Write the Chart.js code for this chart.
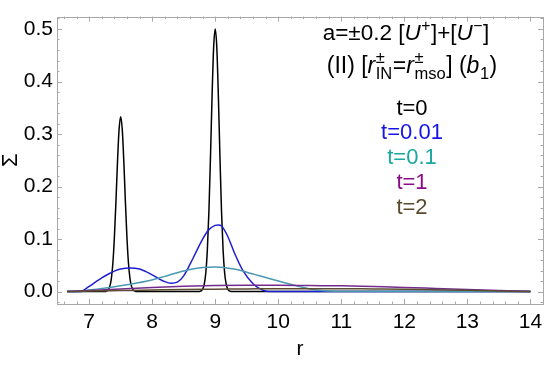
<!DOCTYPE html>
<html><head><meta charset="utf-8">
<script src="https://cdn.jsdelivr.net/npm/chart.js@4/dist/chart.umd.min.js"></script>
<style>html,body{margin:0;padding:0;background:#fff}#wrap{width:550px;height:366px;position:relative}</style>
</head><body><div id="wrap"><canvas id="c" width="550" height="366"></canvas></div>
<script>
// ---- data ----
const seriesLabels = ['t=0', 't=0.01', 't=0.1', 't=1', 't=2'];
const lineColors   = ['#000000', '#1f1fd2', '#4a98b2', '#742c8c', '#5e4c30'];
const textColors   = ['#000000', '#1414e6', '#1aa8a0', '#8a0a8a', '#5a4a2c'];
const xTicks = [7, 8, 9, 10, 11, 12, 13, 14];
const yTicks = [0, 0.1, 0.2, 0.3, 0.4, 0.5];

// t = 0
const r0 = [6.65, 7.25, 7.275, 7.3, 7.325, 7.35, 7.375, 7.4, 7.425, 7.45, 7.475, 7.5, 7.525, 7.55, 7.575, 7.6, 7.625, 7.65, 7.675, 7.7, 7.725, 7.75,
            8.75, 8.775, 8.8, 8.825, 8.85, 8.875, 8.9, 8.925, 8.95, 8.975, 9.0, 9.025, 9.05, 9.075, 9.1, 9.125, 9.15, 9.175, 9.2, 9.225, 9.25, 14.0];
const s0 = [0, 0, 0.001, 0.003, 0.009, 0.023, 0.052, 0.102, 0.171, 0.248, 0.309, 0.333, 0.309, 0.248, 0.171, 0.102, 0.052, 0.023, 0.009, 0.003, 0.001, 0,
            0, 0.0012, 0.0045, 0.0135, 0.035, 0.079, 0.153, 0.257, 0.372, 0.465, 0.5, 0.465, 0.372, 0.257, 0.153, 0.079, 0.035, 0.0135, 0.0045, 0.0012, 0, 0];
// t = 0.01
const r1 = [6.65, 6.85, 7.0, 7.1, 7.2, 7.3, 7.4, 7.5, 7.65, 7.8, 7.9, 8.0, 8.1, 8.2, 8.3, 8.4, 8.5, 8.65, 8.8, 8.9, 9.0, 9.05, 9.1, 9.2, 9.3, 9.44, 9.6, 9.7, 9.85, 14.0];
const s1 = [0, 0, 0.01, 0.018, 0.026, 0.033, 0.039, 0.043, 0.045, 0.043, 0.038, 0.032, 0.025, 0.019, 0.016, 0.018, 0.03, 0.064, 0.1, 0.118, 0.126, 0.127, 0.125, 0.105, 0.075, 0.04, 0.015, 0.006, 0, 0];
// t = 0.1
const r2 = [6.65, 6.85, 7.0, 7.33, 7.6, 7.96, 8.2, 8.4, 8.6, 8.8, 9.0, 9.3, 9.5, 9.8, 10.1, 10.35, 10.6, 11.0, 14.0];
const s2 = [0, 0, 0.003, 0.008, 0.013, 0.021, 0.029, 0.036, 0.042, 0.046, 0.047, 0.043, 0.037, 0.027, 0.017, 0.009, 0.003, 0.0005, 0];
// t = 1
const r3 = [6.65, 7.0, 7.5, 8.0, 8.5, 9.0, 9.5, 10.0, 10.5, 11.0, 11.5, 12.0, 12.5, 13.0, 13.5, 14.0];
const s3 = [0, 0.002, 0.005, 0.008, 0.010, 0.0115, 0.012, 0.012, 0.0115, 0.011, 0.0095, 0.008, 0.006, 0.004, 0.002, 0];
// t = 2
const r4 = [6.65, 7.0, 7.5, 8.0, 8.5, 9.0, 9.5, 10.0, 10.5, 11.0, 11.5, 12.0, 12.5, 13.0, 13.5, 14.0];
const s4 = [0, 0.001, 0.002, 0.003, 0.004, 0.0045, 0.005, 0.0055, 0.0055, 0.0055, 0.005, 0.0045, 0.0035, 0.0025, 0.0013, 0];

const rs = [r0, r1, r2, r3, r4];
const ss = [s0, s1, s2, s3, s4];

const FAM = '"Liberation Sans", Arial, Helvetica, sans-serif';

const datasets = seriesLabels.map((lab, i) => ({
  label: lab,
  data: rs[i].map((r, k) => ({x: r, y: ss[i][k]})),
  borderColor: lineColors[i],
  borderWidth: 1.5,
  pointRadius: 0,
  fill: false,
  cubicInterpolationMode: 'monotone',
  order: seriesLabels.length - i
}));

function drawRich(ctx, segs, cx, baseY, size, scr) {
  const small = size * (scr || 0.66);
  const fnt = (sz, it) => (it ? 'italic ' : '') + sz + 'px ' + FAM;
  const widths = segs.map(s => {
    if (s.t !== undefined) { ctx.font = fnt(size, s.it); return ctx.measureText(s.t).width; }
    ctx.font = fnt(small, false);
    return Math.max(s.sup ? ctx.measureText(s.sup).width : 0, s.sub ? ctx.measureText(s.sub).width : 0) + 1;
  });
  const total = widths.reduce((a, b) => a + b, 0);
  let x = cx - total / 2;
  ctx.textAlign = 'left';
  ctx.textBaseline = 'alphabetic';
  segs.forEach((s, i) => {
    ctx.fillStyle = s.c || '#000';
    if (s.t !== undefined) { ctx.font = fnt(size, s.it); ctx.fillText(s.t, x, baseY); }
    else {
      ctx.font = fnt(small, false);
      if (s.sup) ctx.fillText(s.sup, x + 0.5, baseY - size * 0.42);
      if (s.sub) ctx.fillText(s.sub, x + 0.5, baseY + size * 0.24);
    }
    x += widths[i];
  });
}

const decor = {
  id: 'decor',
  afterDatasetsDraw(chart) {
    const ctx = chart.ctx;
    const a = chart.chartArea;
    const xs = chart.scales.x, ys = chart.scales.y;
    ctx.save();
    ctx.strokeStyle = '#a8a8a8';
    ctx.lineWidth = 1;
    ctx.strokeRect(Math.round(a.left) + 0.5, Math.round(a.top) + 0.5, Math.round(a.right - a.left), Math.round(a.bottom - a.top));
    ctx.beginPath();
    for (let k = Math.ceil(xs.min / 0.2); k * 0.2 <= xs.max; k++) {
      const v = k * 0.2;
      const major = Math.abs(v - Math.round(v)) < 1e-6;
      const len = major ? 5 : 2.5;
      const px = Math.round(xs.getPixelForValue(v)) + 0.5;
      ctx.moveTo(px, a.bottom); ctx.lineTo(px, a.bottom - len);
      ctx.moveTo(px, a.top); ctx.lineTo(px, a.top + len);
    }
    for (let k = Math.ceil(ys.min / 0.02); k * 0.02 <= ys.max; k++) {
      const v = k * 0.02;
      const major = Math.abs(v * 10 - Math.round(v * 10)) < 1e-6;
      const len = major ? 5 : 2.5;
      const py = Math.round(ys.getPixelForValue(v)) + 0.5;
      ctx.moveTo(a.left, py); ctx.lineTo(a.left + len, py);
      ctx.moveTo(a.right, py); ctx.lineTo(a.right - len, py);
    }
    ctx.stroke();

    drawRich(ctx, [
      {t: 'a=\u00b10.2 ['}, {t: 'U', it: true}, {sup: '+'}, {t: ']+['}, {t: 'U', it: true}, {sup: '\u2212'}, {t: ']'}
    ], 406, 40, 22.5, 0.7);
    drawRich(ctx, [
      {t: '(II) ['}, {t: 'r', it: true}, {sup: '\u00b1', sub: 'IN'}, {t: '='}, {t: 'r', it: true}, {sup: '\u00b1', sub: 'mso'}, {t: '] ('}, {t: 'b', it: true}, {sub: '1'}, {t: ')'}
    ], 412, 73, 23, 0.72);
    const baseYs = [115, 139, 164, 189, 214];
    seriesLabels.forEach((lab, i) => {
      drawRich(ctx, [{t: lab, c: textColors[i]}], 412, baseYs[i], 22);
    });
    ctx.restore();
  }
};

new Chart(document.getElementById('c'), {
  type: 'line',
  data: {datasets},
  options: {
    responsive: false,
    animation: false,
    events: [],
    layout: {padding: {top: 8, right: 7, left: 0, bottom: 0}},
    plugins: {legend: {display: false}, tooltip: {enabled: false}},
    scales: {
      x: {
        type: 'linear', min: 6.49, max: 14.2,
        grid: {display: false, drawTicks: false},
        border: {display: false},
        afterBuildTicks: s => { s.ticks = xTicks.map(v => ({value: v})); },
        afterFit: s => { s.height = 62; },
        ticks: {font: {family: FAM, size: 21}, color: '#000', padding: 6, maxRotation: 0, autoSkip: false,
                callback: v => String(v)},
        title: {display: true, text: 'r', font: {family: FAM, size: 21, lineHeight: 1.2}, color: '#000', padding: {top: 0, bottom: 4}}
      },
      y: {
        type: 'linear', min: -0.0236, max: 0.5236,
        grid: {display: false, drawTicks: false},
        border: {display: false},
        afterBuildTicks: s => { s.ticks = yTicks.map(v => ({value: v})); },
        afterFit: s => { s.width = 57; },
        ticks: {font: {family: FAM, size: 21}, color: '#000', padding: 4, autoSkip: false,
                callback: v => Number(v).toFixed(1)},
        title: {display: true, text: '\u03a3', font: {family: FAM, size: 22, lineHeight: 1.0}, color: '#000', padding: 0}
      }
    }
  },
  plugins: [decor]
});
</script>
</body></html>
